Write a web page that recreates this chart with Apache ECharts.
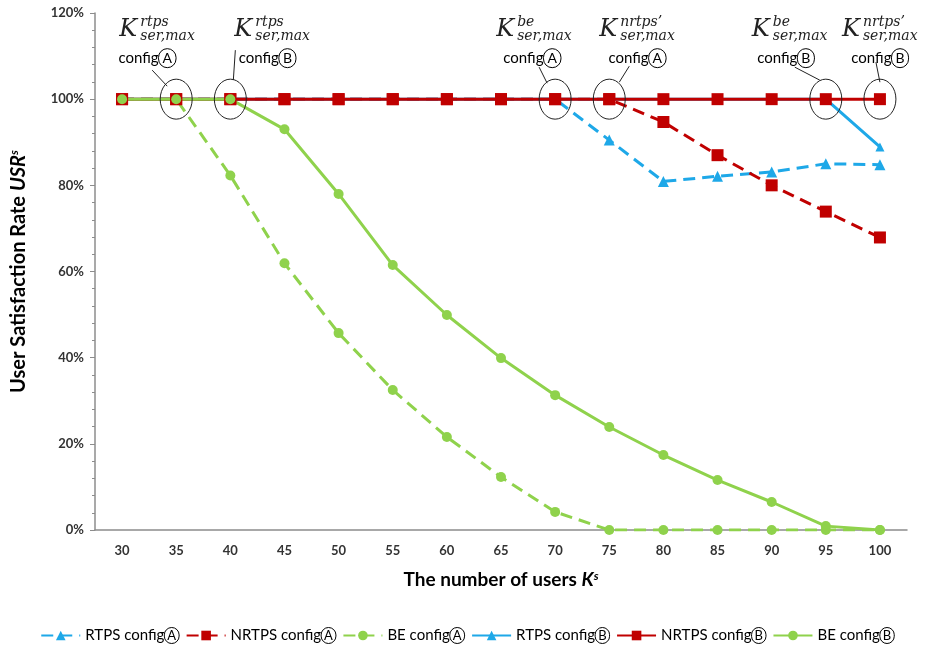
<!DOCTYPE html>
<html><head><meta charset="utf-8">
<script src="https://cdn.jsdelivr.net/npm/echarts@6/dist/echarts.min.js"></script>
<style>html,body{margin:0;padding:0;background:#fff}#main{width:935px;height:653px}</style>
</head><body><div id="main"></div>
<script>
// ---- data ----
const categories = ['30','35','40','45','50','55','60','65','70','75','80','85','90','95','100'];
const yTicks = [0, 20, 40, 60, 80, 100, 120];
const rtpsA  = [100,100,100,100,100,100,100,100,100,90.5,80.9,82.1,83.1,85.0,84.8];
const nrtpsA = [100,100,100,100,100,100,100,100,100,100,94.7,87.0,80.0,73.9,67.9];
const beA    = [100,100,82.3,61.9,45.7,32.5,21.6,12.3,4.2,0,0,0,0,0,0];
const rtpsB  = [100,100,100,100,100,100,100,100,100,100,100,100,100,100,88.9];
const nrtpsB = [100,100,100,100,100,100,100,100,100,100,100,100,100,100,100];
const beB    = [100,100,100,93.0,78.0,61.5,49.9,39.9,31.3,23.9,17.4,11.6,6.5,0.9,0];
const seriesNames = ['RTPS A','NRTPS A','BE A','RTPS B','NRTPS B','BE B'];
// annotated points: category, superscript, config
const annCats = ['35','40','70','75','95','100'];
const annSups = ['rtps','rtps','be','nrtps\u2019','be','nrtps\u2019'];
const annCfgs = ['A','B','A','A','B','B'];

// ---- styles / layout ----
const BLUE = '#1ea8e8', RED = '#c00000', GREEN = '#8fd24c';
const FONT = 'Lato';
// label layout offsets relative to the annotated point (px)
const annLayout = [
  {kx:-57, cx:-29, l:[-24,-29,-9,-13]},
  {kx:4,   cx:37,  l:[5,-49,3,-19]},
  {kx:-59, cx:-23, l:[-16,-32,-8,-16]},
  {kx:-10, cx:28,  l:[20,-33,10,-17]},
  {kx:-74, cx:-40, l:[-31,-32,-6,-19]},
  {kx:-38, cx:0,   l:[-4,-37,0,-17]}
];

const chart = echarts.init(document.getElementById('main'));
const dash = [12, 7];
function mk(name, data, color, symbol, size, dashed) {
  return {
    name, type: 'line', data, symbol, symbolSize: size,
    lineStyle: {color, width: 3, type: dashed ? dash : 'solid'},
    itemStyle: {color},
    z: 2
  };
}
chart.setOption({
  animation: false,
  backgroundColor: '#fff',
  grid: {left: 95, right: 28, top: 13, bottom: 123, containLabel: false},
  legend: {
    bottom: 4, left: 'center', itemWidth: 39, itemHeight: 12, itemGap: 6,
    data: seriesNames,
    formatter: n => n.split(' ')[0] + ' config{c|' + n.split(' ')[1] + '}',
    textStyle: {fontFamily: FONT, fontSize: 15, color: '#000',
      rich: {c: {fontFamily: FONT, fontSize: 13, color: '#000', borderColor: '#000', borderWidth: 1, borderRadius: 10, padding: [2, 3, 1, 3]}}}
  },
  xAxis: {
    type: 'category', data: categories, boundaryGap: true,
    name: 'The number of users {i|K}{s|s}', nameLocation: 'middle', nameGap: 40,
    nameTextStyle: {fontFamily: FONT, fontWeight: 'bold', fontSize: 19, color: '#000',
      rich: {i: {fontFamily: FONT, fontWeight: 'bold', fontStyle: 'italic', fontSize: 19, color: '#000'},
             s: {fontFamily: FONT, fontWeight: 'bold', fontStyle: 'italic', fontSize: 12, color: '#000', padding: [0, 0, 8, 0]}}},
    axisLine: {lineStyle: {color: '#8c8c8c', width: 1.5}},
    axisTick: {inside: true, alignWithLabel: true, length: 5, lineStyle: {color: '#8c8c8c'}},
    axisLabel: {fontFamily: FONT, fontWeight: 'bold', fontSize: 13, color: '#333', margin: 14},
    splitLine: {show: false}
  },
  yAxis: {
    type: 'value', min: yTicks[0], max: yTicks[yTicks.length - 1], interval: 20,
    name: 'User Satisfaction Rate {i|USR}{s|s}', nameLocation: 'middle', nameGap: 66, nameRotate: 90,
    nameTextStyle: {fontFamily: FONT, fontWeight: 'bold', fontSize: 20, color: '#000',
      rich: {i: {fontFamily: FONT, fontWeight: 'bold', fontStyle: 'italic', fontSize: 20, color: '#000'},
             s: {fontFamily: FONT, fontWeight: 'bold', fontStyle: 'italic', fontSize: 12, color: '#000', padding: [0, 0, 9, 0]}}},
    axisLine: {show: true, lineStyle: {color: '#8c8c8c', width: 1.5}},
    axisTick: {show: true, length: 5, lineStyle: {color: '#8c8c8c'}},
    minorTick: {show: true, splitNumber: 5, length: 3, lineStyle: {color: '#8c8c8c'}},
    axisLabel: {fontFamily: FONT, fontWeight: 'bold', fontSize: 13, color: '#333', margin: 11, formatter: '{value}%'},
    splitLine: {show: false}
  },
  series: [
    mk(seriesNames[0], rtpsA, BLUE, 'triangle', 11, true),
    mk(seriesNames[1], nrtpsA, RED, 'rect', 12, true),
    mk(seriesNames[2], beA, GREEN, 'circle', 10, true),
    mk(seriesNames[3], rtpsB, BLUE, 'triangle', 9, false),
    mk(seriesNames[4], nrtpsB, RED, 'rect', 12, false),
    mk(seriesNames[5], beB, GREEN, 'circle', 10, false)
  ]
});

// annotations positioned from the axes
const graphics = [];
annCats.forEach((c, i) => {
  const p = chart.convertToPixel({gridIndex: 0}, [c, 100]);
  const L = annLayout[i];
  graphics.push({type: 'ellipse', shape: {cx: p[0], cy: p[1], rx: 16, ry: 20},
    style: {fill: 'none', stroke: '#222', lineWidth: 1}, z: 10});
  graphics.push({type: 'line', shape: {x1: p[0] + L.l[0], y1: p[1] + L.l[1], x2: p[0] + L.l[2], y2: p[1] + L.l[3]},
    style: {stroke: '#222', lineWidth: 1}, z: 10});
  const kx = p[0] + L.kx, ky = p[1] - 69;
  graphics.push({type: 'text', x: kx, y: ky, style: {text: 'K', font: 'italic 24px "DejaVu Serif"', fill: '#222', textVerticalAlign: 'middle'}, z: 10});
  graphics.push({type: 'text', x: kx + 21, y: ky - 8, style: {text: annSups[i], font: 'italic 14px "DejaVu Serif"', fill: '#222', textVerticalAlign: 'middle'}, z: 10});
  graphics.push({type: 'text', x: kx + 21, y: ky + 6, style: {text: 'ser,max', font: 'italic 14px "DejaVu Serif"', fill: '#222', textVerticalAlign: 'middle'}, z: 10});
  graphics.push({type: 'text', x: p[0] + L.cx, y: p[1] - 41, style: {
    text: 'config{c|' + annCfgs[i] + '}', fontFamily: FONT, fontSize: 15, fill: '#000',
    align: 'center', verticalAlign: 'middle',
    rich: {c: {fontFamily: FONT, fontSize: 14, fill: '#000', borderColor: '#000', borderWidth: 1, borderRadius: 11, padding: [3, 4, 2, 4]}}
  }, z: 10});
});
chart.setOption({graphic: graphics});
</script>
</body></html>
